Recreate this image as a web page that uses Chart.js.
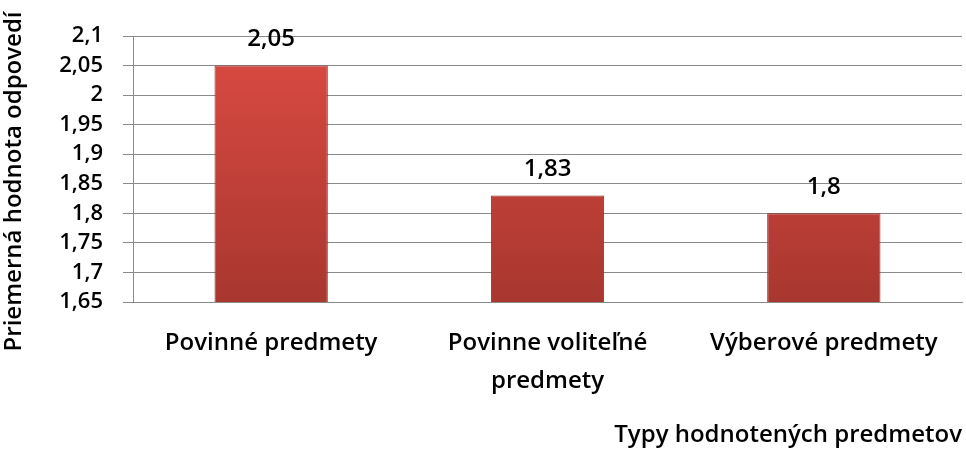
<!DOCTYPE html>
<html>
<head>
<meta charset="utf-8">
<script src="https://cdn.jsdelivr.net/npm/chart.js@4"></script>
<style>
  html, body { margin: 0; padding: 0; background: #fff; }
  #wrap { width: 966px; height: 450px; }
</style>
</head>
<body>
<div id="wrap"><canvas id="chart" width="966" height="450"></canvas></div>
<script>
const categories = [["Povinné predmety"], ["Povinne voliteľné", "predmety"], ["Výberové predmety"]];
const values = [2.05, 1.83, 1.8];
const yMin = 1.65;
const yMax = 2.1;
const yStep = 0.05;
const yTitle = "Priemerná hodnota odpovedí    ";
const xTitle = "Typy hodnotených predmetov";

const fontFamily = "'Open Sans', Lato, sans-serif";

const fmt = (v) => parseFloat(v.toFixed(2)).toString().replace(".", ",");

// labels above the bars
const valueLabels = {
  id: "valueLabels",
  afterDatasetsDraw(chart) {
    const ctx = chart.ctx;
    const meta = chart.getDatasetMeta(0);
    ctx.save();
    ctx.fillStyle = "#000";
    ctx.font = "600 24px " + fontFamily;
    ctx.textAlign = "center";
    ctx.textBaseline = "middle";
    meta.data.forEach((bar, i) => {
      ctx.fillText(fmt(values[i]), bar.x, bar.y - 26);
    });
    ctx.restore();
  }
};

function barFill(context) {
  const chart = context.chart;
  const area = chart.chartArea;
  if (!area) return "#c8423b";
  const g = chart.ctx.createLinearGradient(0, area.top, 0, area.bottom);
  g.addColorStop(0, "#dc4b43");
  g.addColorStop(1, "#a8372f");
  return g;
}

new Chart(document.getElementById("chart"), {
  type: "bar",
  data: {
    labels: categories,
    datasets: [{
      data: values,
      backgroundColor: barFill,
      borderColor: "#8e2b25",
      borderWidth: 1,
      categoryPercentage: 0.41,
      barPercentage: 1.0
    }]
  },
  options: {
    responsive: false,
    animation: false,
    layout: { padding: { top: 36, right: 4, left: 0, bottom: 0 } },
    plugins: {
      legend: { display: false },
      tooltip: { enabled: false }
    },
    scales: {
      y: {
        min: yMin,
        max: yMax,
        border: { display: true, color: "#8a8a8a" },
        grid: { color: "#8a8a8a", tickLength: 10, drawTicks: true },
        ticks: {
          stepSize: yStep,
          autoSkip: false,
          color: "#000",
          padding: 20,
          font: { family: fontFamily, size: 22, weight: "600", lineHeight: 1 },
          callback: (v) => fmt(v)
        },
        title: {
          display: true,
          text: yTitle,
          color: "#000",
          font: { family: fontFamily, size: 24, weight: "600" },
          padding: { top: 0, bottom: 0 }
        },
        afterFit(scale) { scale.width = 133; }
      },
      x: {
        border: { display: true, color: "#8a8a8a" },
        grid: { display: false },
        ticks: {
          color: "#000",
          padding: 14,
          maxRotation: 0,
          font: { family: fontFamily, size: 24, weight: "600", lineHeight: 1.6 }
        },
        title: {
          display: true,
          text: xTitle,
          align: "end",
          color: "#000",
          font: { family: fontFamily, size: 24, weight: "600" },
          padding: { top: 23, bottom: 0 }
        },
        afterFit(scale) { scale.height = 148; }
      }
    }
  },
  plugins: [valueLabels]
});
</script>
</body>
</html>
